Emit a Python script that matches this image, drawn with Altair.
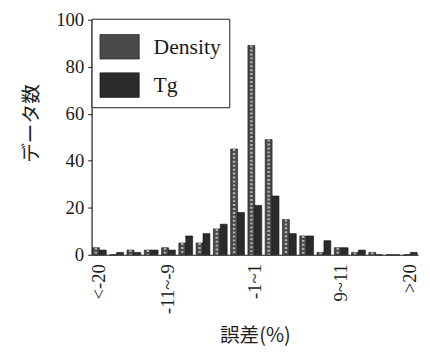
import altair as alt
import pandas as pd

categories = ["<-20", "-17~-15", "-15~-13", "-13~-11", "-11~-9", "-9~-7", "-7~-5",
              "-5~-3", "-3~-1", "-1~1", "1~3", "3~5", "5~7", "7~9", "9~11",
              "11~13", "13~15", "15~17", ">20"]
density = [3, 0, 2, 2, 3, 5, 5, 11, 45, 89, 49, 15, 8, 1, 3, 1, 1, 0, 0]
tg = [2, 1, 1, 2, 2, 8, 9, 13, 18, 21, 25, 9, 8, 6, 3, 2, 0, 0, 1]
series = ["Density", "Tg"]
shown_labels = ["<-20", "-11~-9", "-1~1", "9~11", ">20"]
y_ticks = [0, 20, 40, 60, 80, 100]

rows = []
for c, d, t in zip(categories, density, tg):
    rows.append({"cat": c, "series": "Density", "value": d})
    rows.append({"cat": c, "series": "Tg", "value": t})
df = pd.DataFrame(rows)

SERIF = "Liberation Serif"
JP = "Noto Sans CJK JP"

x_enc = alt.X(
    "cat:N", sort=categories,
    scale=alt.Scale(paddingInner=0.2, paddingOuter=0.05),
    axis=alt.Axis(values=shown_labels, labelAngle=270, ticks=False, tickSize=0,
                  labelPadding=9, labelFont=SERIF, labelFontSize=19,
                  labelColor="#1a1a1a", domainColor="#1a1a1a", domainWidth=1.2,
                  labelBound=False, labelOverlap=False,
                  title="誤差(%)", titleFont=JP, titleFontSize=20,
                  titleFontWeight="normal", titleColor="#1a1a1a",
                  titleY=82, titleBaseline="middle"),
)
xoff_enc = alt.XOffset("series:N", sort=series)

base = alt.Chart(df)

bars = base.mark_bar(stroke="#111111", strokeWidth=0.6).encode(
    x=x_enc,
    xOffset=xoff_enc,
    y=alt.Y("value:Q", scale=alt.Scale(domain=[0, 100], nice=False),
            axis=alt.Axis(values=y_ticks, tickSize=4, tickColor="#1a1a1a",
                          labelPadding=4, labelFont=SERIF, labelFontSize=19,
                          labelColor="#1a1a1a", domainColor="#1a1a1a",
                          domainWidth=1.2, grid=False,
                          title="データ数", titleFont=JP, titleFontSize=20,
                          titleFontWeight="normal", titleColor="#1a1a1a",
                          titleAngle=270, titleX=-61, titleY=105,
                          titleAlign="center", titleBaseline="middle")),
    color=alt.Color(
        "series:N",
        scale=alt.Scale(domain=series, range=["#4a4a4a", "#2b2b2b"]),
        legend=alt.Legend(
            orient="none", legendX=0, legendY=-1, title=None,
            symbolType="M-1,-0.625H1V0.625H-1Z", symbolSize=1600,
            symbolStrokeColor="#111111", symbolStrokeWidth=0.6,
            labelFont=SERIF, labelFontSize=22, labelColor="#1a1a1a",
            labelOffset=14, padding=8, rowPadding=4,
            strokeColor="#1a1a1a", fillColor="white", cornerRadius=0,
        ),
    ),
)

texture = base.transform_filter(alt.datum.series == "Density").mark_rule(
    strokeDash=[2, 2], strokeWidth=2.5, color="#b0b0b0"
).encode(
    x=alt.X("cat:N", sort=categories),
    xOffset=xoff_enc,
    y=alt.Y("value:Q"),
    y2=alt.datum(0),
)

chart = alt.layer(bars, texture).properties(
    width=332, height=239,
    autosize=alt.AutoSizeParams(type="none"),
    padding={"left": 85, "top": 9, "right": 4, "bottom": 99},
    background="white",
).configure_view(strokeWidth=0)

chart.save("out.html", embed_options={"renderer": "svg", "actions": False})
